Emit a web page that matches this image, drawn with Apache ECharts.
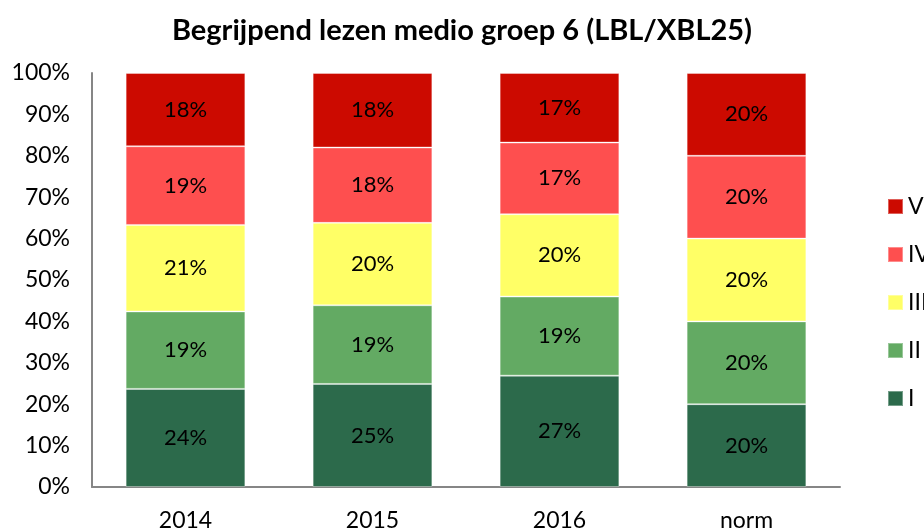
<!DOCTYPE html>
<html>
<head>
<meta charset="utf-8">
<script src="https://cdn.jsdelivr.net/npm/echarts@6/dist/echarts.min.js"></script>
<style>
  html, body { margin: 0; padding: 0; background: #fff; }
  #chart { width: 924px; height: 532px; }
</style>
</head>
<body>
<div id="chart"></div>
<script>
// categories and per-level shares (percent)
const categories = ['2014', '2015', '2016', 'norm']
const levelI = [23.7, 24.9, 26.9, 20]
const levelII = [18.7, 19.0, 19.1, 20]
const levelIII = [20.9, 19.9, 19.9, 20]
const levelIV = [19.0, 18.2, 17.3, 20]
const levelV = [17.7, 18.0, 16.8, 20]
const yTicks = [0, 10, 20, 30, 40, 50, 60, 70, 80, 90, 100]

const font = 'Lato, "Open Sans", sans-serif'

const levels = [
  { name: 'I', data: levelI, color: '#2c6a4b' },
  { name: 'II', data: levelII, color: '#63aa63' },
  { name: 'III', data: levelIII, color: '#ffff66' },
  { name: 'IV', data: levelIV, color: '#fe4f4f' },
  { name: 'V', data: levelV, color: '#cc0a00' }
]

const chart = echarts.init(document.getElementById('chart'))

chart.setOption({
  animation: false,
  title: {
    text: 'Begrijpend lezen medio groep 6 (LBL/XBL25)',
    left: 'center',
    top: 11,
    textStyle: { fontFamily: font, fontSize: 29, fontWeight: 'bold', color: '#000' }
  },
  grid: { left: 92, right: 84, top: 73, bottom: 42 },
  legend: {
    orient: 'vertical',
    left: 882,
    top: 190,
    itemWidth: 15,
    itemHeight: 15,
    itemGap: 25,
    icon: 'rect',
    data: ['V', 'IV', 'III', 'II', 'I'],
    textStyle: { fontFamily: font, fontSize: 23, color: '#000' }
  },
  xAxis: {
    type: 'category',
    data: categories,
    axisLine: { lineStyle: { color: '#868686', width: 2 } },
    axisTick: { show: false },
    axisLabel: { fontFamily: font, fontSize: 23, color: '#000', margin: 22 }
  },
  yAxis: {
    type: 'value',
    min: yTicks[0],
    max: yTicks[yTicks.length - 1],
    interval: 10,
    axisLine: { show: true, lineStyle: { color: '#868686', width: 2 } },
    axisTick: { show: false },
    splitLine: { show: false },
    axisLabel: {
      fontFamily: font, fontSize: 23, color: '#000', margin: 22,
      formatter: v => v + '%'
    }
  },
  series: levels.map(l => ({
    name: l.name,
    type: 'bar',
    stack: 'total',
    data: l.data,
    barCategoryGap: '36%',
    itemStyle: { color: l.color, borderColor: 'rgba(255,255,255,0.35)', borderWidth: 1 },
    label: {
      show: true,
      position: 'inside',
      fontFamily: font,
      fontSize: 22,
      color: '#000',
      formatter: p => Math.round(p.value) + '%'
    }
  }))
})
</script>
</body>
</html>
